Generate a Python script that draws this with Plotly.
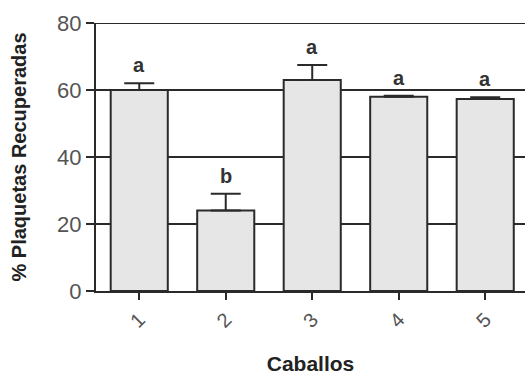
import plotly.graph_objects as go

categories = ["1", "2", "3", "4", "5"]
values = [60.0, 24.0, 63.0, 58.0, 57.3]
errors = [2.0, 5.0, 4.5, 0.3, 0.5]
letters = ["a", "b", "a", "a", "a"]
yticks = [0, 20, 40, 60, 80]

xpos = [1, 2, 3, 4, 5]
line_c = "#2a2a2a"

fig = go.Figure()
fig.add_trace(go.Bar(
    x=xpos, y=values, width=0.66,
    marker=dict(color="#e6e6e6", line=dict(color=line_c, width=2)),
    error_y=dict(type="data", array=errors, arrayminus=[0]*5, symmetric=False,
                 color=line_c, thickness=2, width=15),
))

for xv, v, e, t in zip(xpos, values, errors, letters):
    fig.add_annotation(x=xv, y=v + e, text="<b>%s</b>" % t, showarrow=False,
                       yshift=18, font=dict(family="Liberation Sans", size=20, color="#333"))

# top gridline at the last tick (plotly hides the gridline on the plot edge)
fig.add_shape(type="line", xref="paper", x0=0, x1=1, yref="y", y0=yticks[-1], y1=yticks[-1],
              line=dict(color=line_c, width=2), layer="below")

fig.update_layout(
    width=525, height=375,
    margin=dict(l=96, r=0, t=23, b=84),
    plot_bgcolor="white", paper_bgcolor="white",
    showlegend=False,
)
fig.update_xaxes(
    range=[0.5, 5.46], tickvals=xpos, ticktext=categories, tickangle=-45,
    showline=True, linecolor=line_c, linewidth=2, showgrid=False, zeroline=False,
    ticks="outside", ticklen=7, tickwidth=2, tickcolor=line_c, automargin=False,
    tickfont=dict(family="Liberation Sans", size=20, color="#555"),
    title=dict(text="<b>Caballos</b>", font=dict(family="Liberation Sans", size=21, color="#222"), standoff=28),
)
fig.update_yaxes(
    range=[0, 80], tickvals=yticks,
    showline=True, linecolor=line_c, linewidth=2,
    showgrid=True, gridcolor=line_c, gridwidth=2, zeroline=False,
    ticks="outside", ticklen=8, tickwidth=2, tickcolor=line_c, automargin=False,
    tickfont=dict(family="Liberation Sans", size=22, color="#555"),
    title=dict(text="<b>% Plaquetas Recuperadas</b>", font=dict(family="Liberation Sans", size=20, color="#222"), standoff=25),
)

fig.write_html("out.html", config={"displayModeBar": False},
               post_script="document.body.style.margin='0';document.body.style.overflow='hidden';")
